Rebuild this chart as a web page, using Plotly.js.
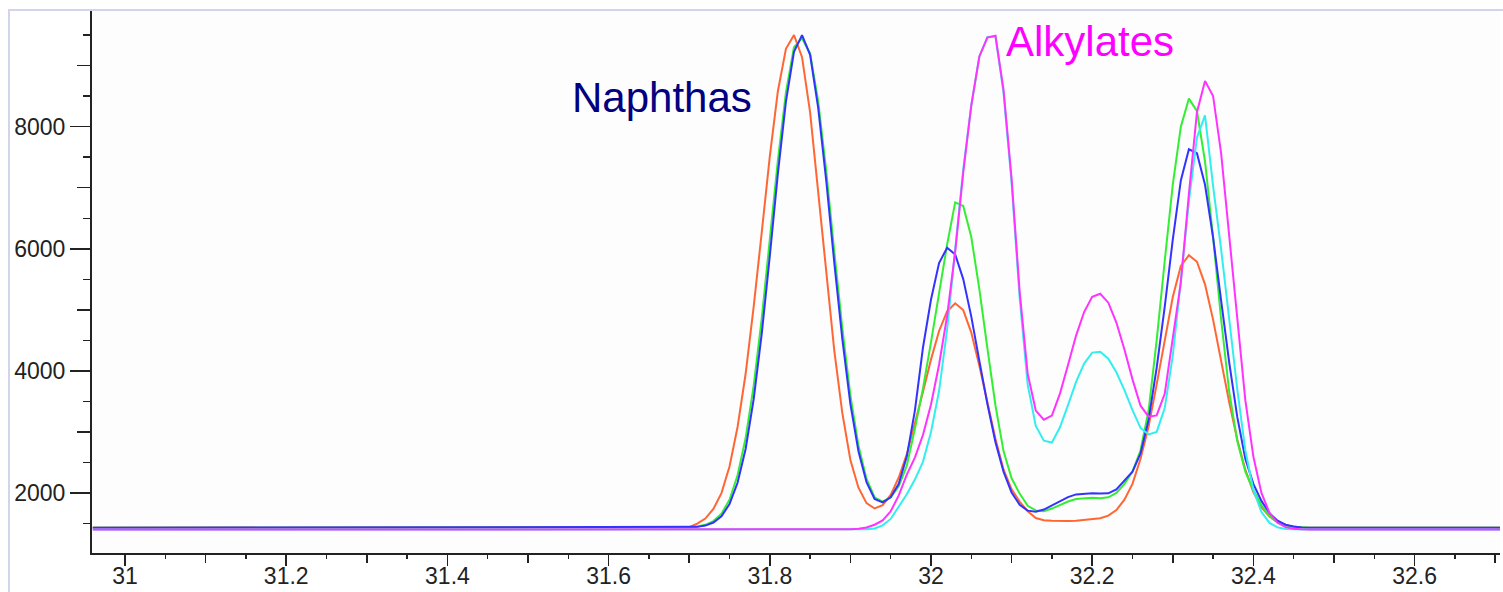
<!DOCTYPE html>
<html>
<head>
<meta charset="utf-8">
<script src="https://cdn.plot.ly/plotly-3.0.1.min.js"></script>
<style>
  html, body { margin: 0; padding: 0; background: #ffffff; }
  #wrap { position: relative; width: 1503px; height: 592px; overflow: hidden; }
  #chart { position: absolute; left: 0; top: 0; width: 1503px; height: 592px; }
  #frame { position: absolute; left: 8px; top: 9px; right: -4px; bottom: -4px;
           border-left: 2px solid #d2d4ea; border-top: 2px solid #d2d4ea; pointer-events: none; }
</style>
</head>
<body>
<div id="wrap">
  <div id="chart"></div>
  <div id="frame"></div>
</div>
<script>
// Retention time (min)
const rt = [30.96,
  31.70, 31.71, 31.72, 31.73, 31.74, 31.75, 31.76, 31.77, 31.78, 31.79,
  31.80, 31.81, 31.82, 31.83, 31.84, 31.85, 31.86, 31.87, 31.88, 31.89,
  31.90, 31.91, 31.92, 31.93, 31.94, 31.95, 31.96, 31.97, 31.98, 31.99,
  32.00, 32.01, 32.02, 32.03, 32.04, 32.05, 32.06, 32.07, 32.08, 32.09,
  32.10, 32.11, 32.12, 32.13, 32.14, 32.15, 32.16, 32.17, 32.18, 32.19,
  32.20, 32.21, 32.22, 32.23, 32.24, 32.25, 32.26, 32.27, 32.28, 32.29,
  32.30, 32.31, 32.32, 32.33, 32.34, 32.35, 32.36, 32.37, 32.38, 32.39,
  32.40, 32.41, 32.42, 32.43, 32.44, 32.45, 32.46, 32.47,
  32.71];

// Naphthas
const naphthaOrange = [1430,
  1440, 1498, 1581, 1740, 1998, 2435, 3081, 3953, 5052, 6271,
  7515, 8581, 9276, 9502, 9139, 8234, 6966, 5617, 4333, 3307,
  2540, 2087, 1834, 1746, 1802, 1968, 2254, 2636, 3122, 3653,
  4187, 4654, 4974, 5107, 4996, 4628, 4083, 3472, 2883, 2386,
  2060, 1860, 1700, 1590, 1555, 1545, 1540, 1540, 1545, 1555,
  1570, 1585, 1630, 1720, 1890, 2150, 2560, 3090, 3780, 4520,
  5210, 5720, 5895, 5788, 5417, 4840, 4161, 3486, 2878, 2382,
  2015, 1765, 1613, 1519, 1470, 1445, 1435, 1430,
  1430];

const naphthaGreen = [1430,
  1437, 1450, 1479, 1540, 1660, 1890, 2290, 2900, 3760, 4860,
  6140, 7450, 8560, 9300, 9450, 9200, 8420, 7280, 5960, 4700,
  3600, 2780, 2230, 1930, 1860, 1930, 2110, 2450, 3050, 3710,
  4470, 5300, 6070, 6760, 6700, 6192, 5339, 4367, 3433, 2686,
  2240, 1990, 1790, 1715, 1700, 1745, 1800, 1860, 1900, 1915,
  1920, 1915, 1930, 2000, 2150, 2350, 2700, 3350, 4500, 5800,
  7050, 8000, 8460, 8254, 7430, 6189, 4842, 3658, 2850, 2350,
  2050, 1800, 1620, 1520, 1470, 1445, 1435, 1430,
  1430];

const naphthaBlue = [1430,
  1435, 1445, 1466, 1516, 1619, 1817, 2167, 2721, 3536, 4610,
  5885, 7232, 8411, 9226, 9500, 9177, 8314, 7119, 5772, 4521,
  3456, 2683, 2178, 1903, 1847, 1930, 2150, 2600, 3350, 4379,
  5169, 5766, 6018, 5908, 5504, 4889, 4163, 3457, 2830, 2347,
  2009, 1808, 1711, 1694, 1728, 1793, 1867, 1932, 1977, 1990,
  1994, 1990, 1995, 2060, 2200, 2350, 2650, 3200, 4050, 5050,
  6150, 7120, 7630, 7566, 7048, 6186, 5150, 4139, 3246, 2560,
  2150, 1870, 1670, 1545, 1480, 1450, 1435, 1432,
  1430];

// Alkylates
const alkylateCyan = [1400,
  1400, 1400, 1400, 1400, 1400, 1400, 1400, 1400, 1400, 1400,
  1400, 1400, 1400, 1400, 1400, 1400, 1400, 1400, 1400, 1400,
  1400, 1400, 1405, 1420, 1470, 1575, 1780, 1980, 2220, 2510,
  3000, 3670, 4680, 5960, 7300, 8350, 9150, 9470, 9480, 8559,
  7078, 5200, 3771, 3097, 2857, 2827, 3076, 3440, 3819, 4120,
  4299, 4313, 4199, 3977, 3684, 3357, 3065, 2960, 3000, 3390,
  4250, 5477, 6783, 7822, 8186, 7030, 5990, 4850, 3700, 2700,
  2050, 1689, 1510, 1436, 1410, 1405, 1400, 1400,
  1400];

const alkylateMagenta = [1400,
  1400, 1400, 1400, 1400, 1400, 1400, 1400, 1400, 1400, 1400,
  1400, 1400, 1400, 1400, 1400, 1400, 1400, 1400, 1400, 1400,
  1405, 1415, 1435, 1480, 1550, 1700, 1960, 2300, 2580, 2950,
  3450, 4100, 4900, 5950, 7250, 8350, 9150, 9460, 9490, 8603,
  7151, 5300, 3950, 3350, 3200, 3269, 3628, 4095, 4578, 4964,
  5212, 5263, 5117, 4792, 4351, 3861, 3430, 3250, 3270, 3624,
  4506, 5450, 6900, 8237, 8750, 8503, 7562, 6213, 4760, 3520,
  2596, 2002, 1674, 1512, 1441, 1415, 1405, 1400,
  1400];

const xMajorTicks = [31, 31.2, 31.4, 31.6, 31.8, 32, 32.2, 32.4, 32.6];
const xMajorLabels = ['31', '31.2', '31.4', '31.6', '31.8', '32', '32.2', '32.4', '32.6'];
const xMidTicks = [31.1, 31.3, 31.5, 31.7, 31.9, 32.1, 32.3, 32.5, 32.7];
const yMajorTicks = [2000, 4000, 6000, 8000];
const yMajorLabels = ['2000', '4000', '6000', '8000'];
const yMidTicks = [3000, 5000, 7000, 9000];

const labelNaphthas = 'Naphthas';
const labelAlkylates = 'Alkylates';

const xRange = [30.959, 32.706];
const yRange = [1017, 9895];

function line(y, color) {
  return { x: rt, y: y, type: 'scatter', mode: 'lines',
           line: { color: color, width: 2, shape: 'linear' },
           hoverinfo: 'skip', showlegend: false };
}

function dummy(xa, ya) {
  return { x: [xRange[0]], y: [yRange[0]], xaxis: xa, yaxis: ya, type: 'scatter', mode: 'markers',
           marker: { opacity: 0 }, hoverinfo: 'skip', showlegend: false };
}

const traces = [
  line(naphthaOrange, '#ff6633'),
  line(naphthaGreen, '#33ee33'),
  line(naphthaBlue, '#3333ff'),
  line(alkylateCyan, '#33eeee'),
  line(alkylateMagenta, '#ff33ff'),
  dummy('x2', 'y2'),
  dummy('x3', 'y')
];

const axisFont = { family: 'Liberation Sans, Arial, sans-serif', size: 23, color: '#222222' };
const tickCol = '#222222';

const layout = {
  width: 1503, height: 592,
  margin: { l: 92, r: 3, t: 11, b: 39 },
  paper_bgcolor: '#ffffff',
  plot_bgcolor: '#fdfdfd',
  showlegend: false,
  xaxis: {
    range: xRange, tickvals: xMajorTicks, ticktext: xMajorLabels,
    ticks: 'outside', ticklen: 1, tickwidth: 1.5, tickcolor: tickCol,
    minor: { dtick: 0.05, tick0: 31, ticks: 'outside', ticklen: 4, tickwidth: 1.5, tickcolor: tickCol, showgrid: false },
    showline: true, linecolor: tickCol, linewidth: 2,
    showgrid: false, zeroline: false, tickfont: axisFont, fixedrange: true
  },
  xaxis2: {
    overlaying: 'x', anchor: 'y', side: 'bottom', range: xRange, tickvals: xMidTicks,
    ticks: 'outside', ticklen: 9, tickwidth: 1.5, tickcolor: tickCol,
    showticklabels: false, showline: false, showgrid: false, zeroline: false
  },
  xaxis3: {
    overlaying: 'x', anchor: 'y', side: 'bottom', range: xRange, tickvals: xMajorTicks,
    ticks: 'outside', ticklen: 12, tickwidth: 1.5, tickcolor: tickCol,
    showticklabels: false, showline: false, showgrid: false, zeroline: false
  },
  yaxis: {
    range: yRange, tickvals: yMajorTicks, ticktext: yMajorLabels,
    ticks: 'outside', ticklen: 20, tickwidth: 1.5, tickcolor: tickCol,
    minor: { dtick: 500, tick0: 0, ticks: 'outside', ticklen: 7, tickwidth: 1.5, tickcolor: tickCol, showgrid: false },
    showline: true, linecolor: tickCol, linewidth: 2,
    showgrid: false, zeroline: false, tickfont: axisFont, fixedrange: true
  },
  yaxis2: {
    overlaying: 'y', anchor: 'x', side: 'left', range: yRange, tickvals: yMidTicks,
    ticks: 'outside', ticklen: 14, tickwidth: 1.5, tickcolor: tickCol,
    showticklabels: false, showline: false, showgrid: false, zeroline: false
  },
  annotations: [
    { text: labelNaphthas, x: 31.666, y: 8480, xref: 'x', yref: 'y', showarrow: false,
      xanchor: 'center', yanchor: 'middle',
      font: { family: 'Liberation Sans, Arial, sans-serif', size: 42, color: '#000080' } },
    { text: labelAlkylates, x: 32.197, y: 9400, xref: 'x', yref: 'y', showarrow: false,
      xanchor: 'center', yanchor: 'middle',
      font: { family: 'Liberation Sans, Arial, sans-serif', size: 42, color: '#ff00ff' } }
  ]
};

Plotly.newPlot('chart', traces, layout, { displayModeBar: false, staticPlot: true });
</script>
</body>
</html>
